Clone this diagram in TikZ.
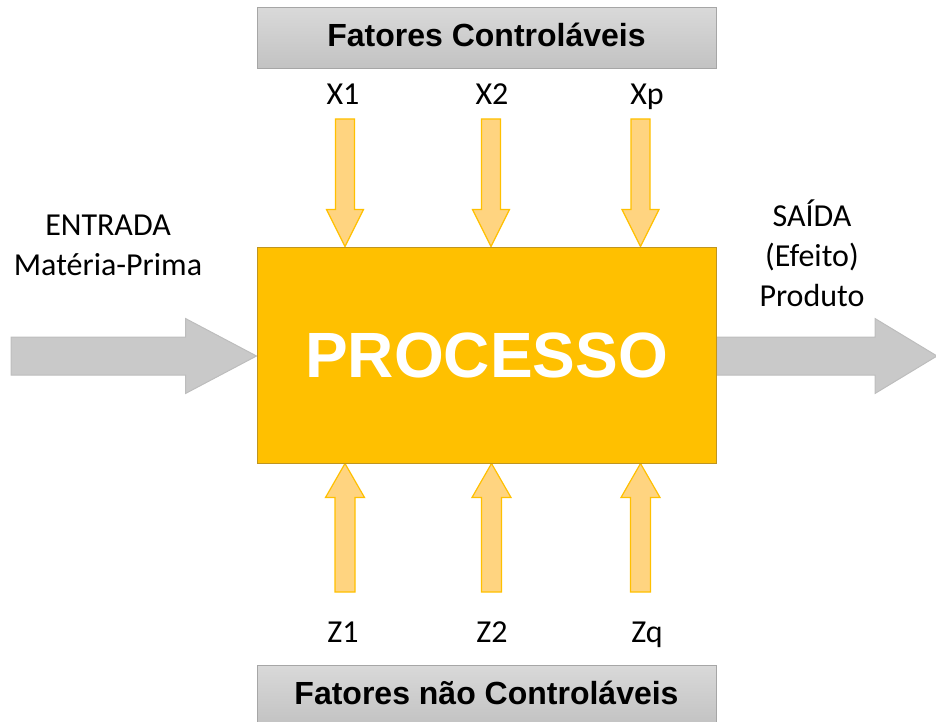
\documentclass[tikz,border=0pt]{standalone}
\usepackage{fontspec}
\setmainfont{Carlito}
\newfontfamily\arialfont{Liberation Sans}
\usetikzlibrary{calc,positioning,backgrounds}
\definecolor{procOrange}{HTML}{FFC000}
\definecolor{procEdge}{HTML}{BF9520}
\definecolor{factorFill}{HTML}{FFD480}
\definecolor{flowGray}{HTML}{C9C9C9}
\definecolor{flowEdge}{HTML}{BDBDBD}
\definecolor{boxTop}{HTML}{D9D9D9}
\definecolor{boxBottom}{HTML}{C2C2C2}
\definecolor{boxEdge}{HTML}{A6A6A6}
% block arrow: style, tail, tip, shaft half width, head half width, head length
\newcommand{\blockarrow}[6]{%
  \path[#1] let \p1=(#2), \p2=(#3), \n1={veclen(\x2-\x1,\y2-\y1)},
    \n2={(\x2-\x1)/\n1}, \n3={(\y2-\y1)/\n1} in
    ({\x1-#4*\n3},{\y1+#4*\n2}) -- ({\x2-#6*\n2-#4*\n3},{\y2-#6*\n3+#4*\n2})
    -- ({\x2-#6*\n2-#5*\n3},{\y2-#6*\n3+#5*\n2}) -- (\p2)
    -- ({\x2-#6*\n2+#5*\n3},{\y2-#6*\n3-#5*\n2}) -- ({\x2-#6*\n2+#4*\n3},{\y2-#6*\n3-#4*\n2})
    -- ({\x1+#4*\n3},{\y1-#4*\n2}) -- cycle;}
\begin{document}
\begin{tikzpicture}[x=1pt,y=-1pt,
  lbl/.style={font=\fontsize{32}{40}\selectfont,align=center,inner sep=0pt},
  fatorbox/.style={draw=boxEdge,line width=1pt,top color=boxTop,bottom color=boxBottom,
    minimum width=459pt,minimum height=61pt,inner sep=0pt,text height=23pt,text depth=6pt,
    font=\arialfont\bfseries\fontsize{32}{38}\selectfont},
  procbox/.style={draw=procEdge,line width=1pt,fill=procOrange,minimum width=459pt,
    minimum height=216pt,text=white,font=\arialfont\bfseries\fontsize{64}{72}\selectfont},
  smallarr/.style={draw=procOrange,line width=1.2pt,fill=factorFill},
  bigarr/.style={draw=flowEdge,line width=1pt,fill=flowGray}]
  \useasboundingbox (0,0) rectangle (936,722);
  \node[procbox] (proc) at (486.5,355) {PROCESSO};
  \node[fatorbox] (ctrl) at (486.5,38.5) {Fatores Controláveis};
  \node[fatorbox] (unctrl) at (486.5,695.5) {Fatores não Controláveis};
  \node[lbl,anchor=base] (x1) at (343,105) {X1};
  \node[lbl,anchor=base] (x2) at (492,105) {X2};
  \node[lbl,anchor=base] (xp) at (647,105) {Xp};
  \node[lbl,anchor=base] (z1) at (343,642) {Z1};
  \node[lbl,anchor=base] (z2) at (492,642) {Z2};
  \node[lbl,anchor=base] (zq) at (647,642) {Zq};
  \node[lbl] (entrada) at (108,245.5) {ENTRADA\\Matéria-Prima};
  \node[lbl] (saida) at (812,253) {SAÍDA\\(Efeito)\\Produto};
  \coordinate (t1) at (345,119);
  \coordinate (t2) at (491,119);
  \coordinate (tp) at (640.5,119);
  \coordinate (b1) at (345,592);
  \coordinate (b2) at (491.5,592);
  \coordinate (bq) at (640.5,592);
  \coordinate (inTail) at (11,356);
  \coordinate (outTip) at (937,356);
  \begin{scope}[on background layer]
    \foreach \c in {t1,t2,tp}{\blockarrow{smallarr}{\c}{proc.north -| \c}{9.5}{18.5}{37}}
    \foreach \c in {b1,b2,bq}{\blockarrow{smallarr}{\c}{proc.south -| \c}{10}{19.5}{34}}
    \blockarrow{bigarr}{inTail}{proc.west |- inTail}{19}{37.5}{71}
    \blockarrow{bigarr}{proc.east |- outTip}{outTip}{19}{37.5}{62}
  \end{scope}
\end{tikzpicture}
\end{document}
